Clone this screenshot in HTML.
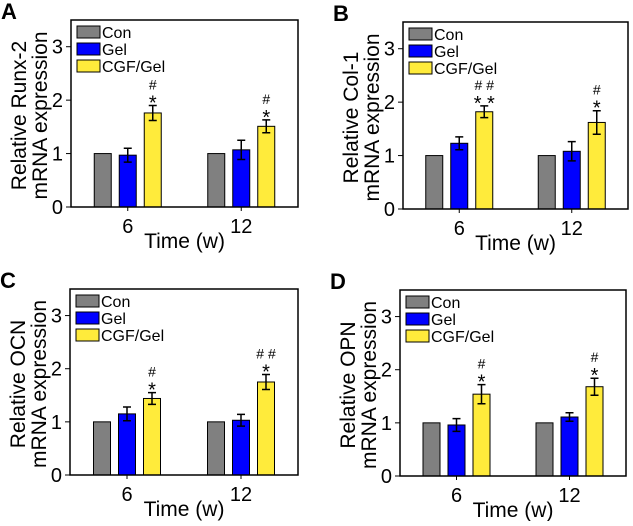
<!DOCTYPE html>
<html><head><meta charset="utf-8"><style>
body{margin:0;background:#fff;width:633px;height:521px;overflow:hidden}
text{font-family:"Liberation Sans",Arial,sans-serif}
</style></head><body>
<svg id="c" width="633" height="521" xmlns="http://www.w3.org/2000/svg"></svg>
<script>
const categories = ["6","12"];
const seriesNames = ["Con","Gel","CGF/Gel"];
const yTicks = [0,1,2,3];
const panelLetters = ["A","B","C","D"];
const panelTitles = [["Relative Runx-2","mRNA expression"],["Relative Col-1","mRNA expression"],["Relative OCN","mRNA expression"],["Relative OPN","mRNA expression"]];
const conValues = [[1,1],[1,1],[1,1],[1,1]];
const gelValues = [[0.97,1.07],[1.23,1.08],[1.15,1.03],[0.96,1.11]];
const gelErrors = [[0.13,0.18],[0.12,0.18],[0.13,0.11],[0.12,0.08]];
const cgfValues = [[1.76,1.51],[1.82,1.62],[1.44,1.75],[1.54,1.68]];
const cgfErrors = [[0.14,0.12],[0.11,0.22],[0.11,0.14],[0.18,0.16]];
const hashMarks = [["#","#"],["# #","#"],["#","# #"],["#","#"]];
const starMarks = [["*","*"],["* *","*"],["*","*"],["*","*"]];

const colors=["#808080","#0000ff","#ffeb3b"];
const boxes=[[71,20,227,187],[403,22,225,187],[70,289,228,186],[400,290,226,186]];
const svg=document.getElementById('c');
const NS="http://www.w3.org/2000/svg";
function mk(tag,attrs,parent,txt){const e=document.createElementNS(NS,tag);for(const k in attrs)e.setAttribute(k,attrs[k]);if(txt!==undefined)e.textContent=txt;(parent||svg).appendChild(e);return e;}

boxes.forEach((b,p)=>{
  const [L,T,W,H]=b;
  const g=mk('g',{});
  
  
  const y=v=>T+H-v*H/3.5;
  const xc=i=>L+W*(0.25+0.5*i);
  const lt=mk('text',{x:L-70,y:T-1,'font-size':22,'font-weight':'bold'},g,panelLetters[p]);
  
  
  const vals=[conValues[p],gelValues[p],cgfValues[p]];
  const errs=[null,gelErrors[p],cgfErrors[p]];
  categories.forEach((c,i)=>{
    for(let s=0;s<3;s++){
      const v=vals[s][i];const bx=xc(i)+(s-1)*25-8.5;
      const r=mk('rect',{x:bx,y:y(v),width:17,height:y(0)-y(v),fill:colors[s],stroke:'#000','stroke-width':1},g);
      
      
      if(errs[s]){const e=errs[s][i];const cx=bx+8.5;
        const eb=mk('path',{d:`M${cx},${y(v+e)}V${y(v-e)}M${cx-4},${y(v+e)}H${cx+4}M${cx-4},${y(v-e)}H${cx+4}`,stroke:'#000','stroke-width':1.5,fill:'none'},g);
        
        
        if(s===2){
          const top=y(v+e);
          const st=mk('text',{x:cx,y:top+4,'font-size':20,'text-anchor':'middle'},g,starMarks[p][i]);
          
          
          const hs=mk('text',{x:cx,y:top-16,'font-size':14,'text-anchor':'middle'},g,hashMarks[p][i]);
          
          
        }
      }
    }
    const tk=mk('line',{x1:xc(i),x2:xc(i),y1:T+H,y2:T+H+4,stroke:'#000'},g);
    
    
    const tl=mk('text',{x:xc(i),y:T+H+26,'font-size':20,'text-anchor':'middle'},g,c);
    
    
  });
  yTicks.forEach(t=>{
    const tk=mk('line',{x1:L-5,x2:L,y1:y(t),y2:y(t),stroke:'#000'},g);
    
    
    const tl=mk('text',{x:L-8,y:y(t)+7,'font-size':20,'text-anchor':'end'},g,t);
    
    
  });
  const fr=mk('rect',{x:L,y:T,width:W,height:H,fill:'none',stroke:'#000','stroke-width':1.5},g);
  
  
  seriesNames.forEach((n,s)=>{
    const r=mk('rect',{x:L+6,y:T+6+s*17,width:23,height:12,fill:colors[s],stroke:'#000'},g);
    
    
    const t=mk('text',{x:L+31,y:T+18+s*17,'font-size':16},g,n);
    
    
  });
  const xt=mk('text',{x:L+W*0.5,y:T+H+41,'font-size':21,'text-anchor':'middle'},g,'Time (w)');
  
  
  const cy=T+H/2+2;
  const yt=mk('text',{transform:`translate(${L-45},${cy}) rotate(-90)`,'font-size':21,'text-anchor':'middle'},g);
  
  
  mk('tspan',{x:0,y:0},yt,panelTitles[p][0]);
  mk('tspan',{x:0,y:21},yt,panelTitles[p][1]);
});
</script>
</body></html>
